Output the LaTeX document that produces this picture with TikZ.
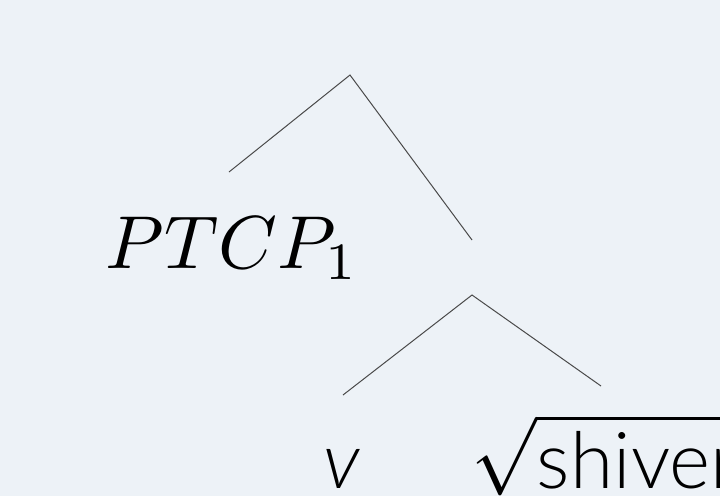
\documentclass[tikz,border=0pt]{standalone}
\usepackage{fontspec}
\newfontfamily\latofont{Lato Light}
\definecolor{paper}{HTML}{EDF2F7}
\definecolor{branchgray}{HTML}{4A4A4A}
\begin{document}
\begin{tikzpicture}[x=1pt,y=-1pt,
  branch/.style={draw=branchgray, line width=1pt},
  label/.style={inner sep=0pt, text=black, scale=7.5},
  leaf/.style={inner sep=0pt, text=black, scale=7.85, font=\latofont}]
  % canvas
  \fill[paper] (0,0) rectangle (720,496);
  \useasboundingbox (0,0) rectangle (720,496);

  % tree joints and branch ends
  \coordinate (root) at (350,75);
  \coordinate (rootL) at (229,172);
  \coordinate (rootR) at (472,240);
  \coordinate (vp) at (472,295);
  \coordinate (vpL) at (343,395);
  \coordinate (vpR) at (601,386);

  % labels
  \node[label, anchor=base west] (ptcp) at (104,268) {$PTCP_1$};
  \node[leaf, anchor=base west] (v) at (322,488) {\itshape v};
  \node[leaf, anchor=base west] (root-word) at (470,488) {$\sqrt{\hbox{\latofont shiver}}$};

  % branches
  \draw[branch] (rootL) -- (root) -- (rootR);
  \draw[branch] (vpL) -- (vp) -- (vpR);
\end{tikzpicture}
\end{document}
